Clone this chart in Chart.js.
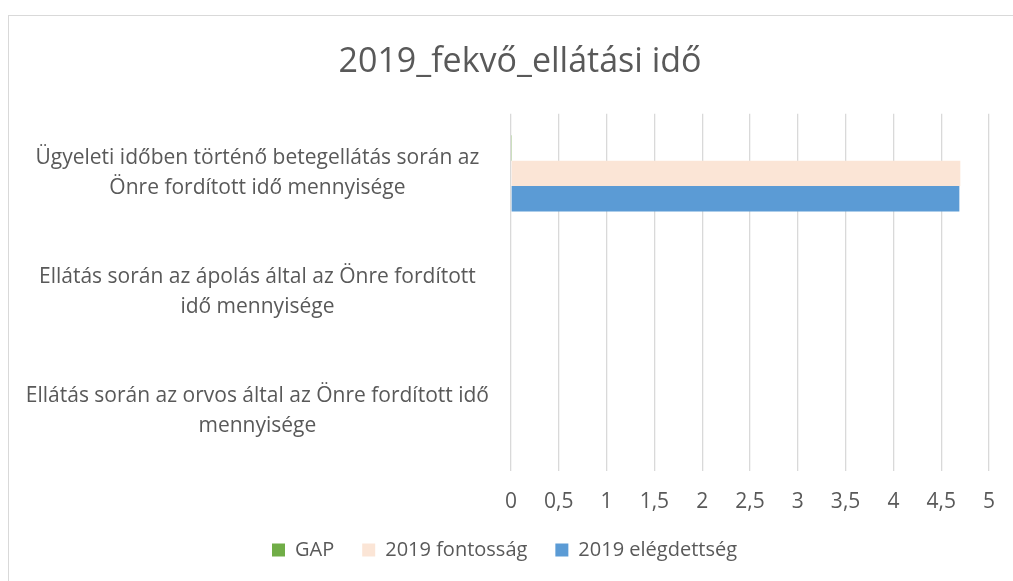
<!DOCTYPE html>
<html>
<head>
<meta charset="utf-8">
<script src="https://cdn.jsdelivr.net/npm/chart.js@4/dist/chart.umd.min.js"></script>
<style>
    html, body { margin: 0; padding: 0; background: #fff; overflow: hidden; }
    #keret { position: absolute; left: 8px; top: 15px; width: 1030px; height: 600px; border: 1.5px solid #d9d9d9; box-sizing: border-box; }
    #doboz { position: absolute; left: 0; top: 0; width: 1013px; height: 581px; }
</style>
</head>
<body>
<div id="keret"></div>
<div id="doboz"><canvas id="grafikon"></canvas></div>
<script>
// Kategóriák (többsoros címkék)
const kategoriak = [
    ['Ügyeleti időben történő betegellátás során az', 'Önre fordított idő mennyisége'],
    ['Ellátás során az ápolás által az Önre fordított', 'idő mennyisége'],
    ['Ellátás során az orvos által az Önre fordított idő', 'mennyisége']
];

// Sorozatok
const gapErtekek = [0.01, null, null];
const fontossagErtekek = [4.70, null, null];
const elegedettsegErtekek = [4.69, null, null];

// X tengely címkéi
const xTickCimkek = ['0', '0,5', '1', '1,5', '2', '2,5', '3', '3,5', '4', '4,5', '5'];

const BETU = "'Open Sans', 'Noto Sans', sans-serif";
const SZURKE = '#595959';
const BAL_PADDING = 20;
const PLOT_BAL = 511;

// a cím kicsit jobbra áll, mint a jelmagyarázat
const cimEltolas = {
    id: 'cimEltolas',
    afterLayout(chart) {
        if (chart.titleBlock) {
            chart.titleBlock.left += 31;
        }
    }
};

const ctx = document.getElementById('grafikon').getContext('2d');

new Chart(ctx, {
    type: 'bar',
    data: {
        labels: kategoriak,
        datasets: [
            { label: 'GAP', data: gapErtekek, backgroundColor: '#70ad47' },
            { label: '2019 fontosság', data: fontossagErtekek, backgroundColor: '#fbe5d6' },
            { label: '2019 elégdettség', data: elegedettsegErtekek, backgroundColor: '#5b9bd5' }
        ]
    },
    options: {
        indexAxis: 'y',
        responsive: true,
        maintainAspectRatio: false,
        animation: false,
        categoryPercentage: 0.64,
        barPercentage: 1,
        layout: {
            padding: { left: BAL_PADDING, right: 24, top: 0, bottom: 11 }
        },
        scales: {
            x: {
                min: 0,
                max: 5,
                ticks: {
                    stepSize: 0.5,
                    color: SZURKE,
                    font: { family: BETU, size: 21 },
                    padding: 18,
                    callback: (v, i) => xTickCimkek[i]
                },
                grid: { color: '#d9d9d9', lineWidth: 1.3, drawTicks: false },
                border: { display: false },
                afterFit: (skala) => { skala.height = 41; }
            },
            y: {
                ticks: {
                    color: SZURKE,
                    font: { family: BETU, size: 21, lineHeight: 1.43 },
                    crossAlign: 'center',
                    padding: 22
                },
                grid: { display: false, drawTicks: false },
                border: { display: false },
                afterFit: (skala) => { skala.width = PLOT_BAL - BAL_PADDING; }
            }
        },
        plugins: {
            title: {
                display: true,
                text: '2019_fekvő_ellátási idő',
                color: SZURKE,
                font: { family: BETU, size: 34, weight: 'normal' },
                padding: { top: 42, bottom: 31 }
            },
            legend: {
                position: 'bottom',
                labels: {
                    color: SZURKE,
                    font: { family: BETU, size: 20 },
                    boxWidth: 13,
                    boxHeight: 13,
                    padding: 28
                }
            },
            tooltip: { enabled: false }
        }
    },
    plugins: [cimEltolas]
});
</script>
</body>
</html>
